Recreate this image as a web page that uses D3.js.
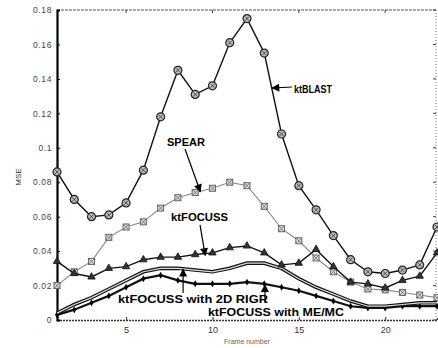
<!DOCTYPE html>
<html>
<head>
<meta charset="utf-8">
<script src="https://cdn.jsdelivr.net/npm/d3@7"></script>
<style>
  html, body { margin: 0; padding: 0; background: #fff; }
  svg { display: block; }
  text { font-family: "Liberation Sans", Arial, sans-serif; }
</style>
</head>
<body>
<div id="chart"></div>
<script>
// frame numbers 1..23
const frames = [1,2,3,4,5,6,7,8,9,10,11,12,13,14,15,16,17,18,19,20,21,22,23];

const ktBLAST = [0.086,0.070,0.060,0.061,0.068,0.087,0.118,0.145,0.131,0.136,0.161,0.175,0.155,0.108,0.078,0.064,0.049,0.035,0.028,0.027,0.029,0.032,0.054];
const spear   = [0.020,0.028,0.034,0.048,0.054,0.057,0.065,0.071,0.074,0.0765,0.080,0.078,0.066,0.053,0.046,0.036,0.028,0.022,0.018,0.0175,0.016,0.0145,0.013];
const ktFOCUSS = [0.034,0.027,0.025,0.030,0.031,0.035,0.0365,0.0365,0.038,0.039,0.042,0.043,0.039,0.032,0.033,0.041,0.031,0.022,0.021,0.0186,0.023,0.0255,0.039];
const rigr    = [0.004,0.009,0.013,0.018,0.023,0.028,0.030,0.030,0.029,0.028,0.030,0.033,0.033,0.030,0.024,0.019,0.015,0.011,0.008,0.008,0.009,0.010,0.010];
const memc    = [0.003,0.006,0.010,0.014,0.019,0.024,0.026,0.023,0.021,0.021,0.021,0.022,0.021,0.019,0.017,0.014,0.011,0.008,0.007,0.007,0.008,0.008,0.008];

const yTicks = [0,0.02,0.04,0.06,0.08,0.1,0.12,0.14,0.16,0.18];
const xTicks = [5,10,15,20];

// annotation labels: text position and arrow from -> to, in data units
const notes = [
  { text: 'ktBLAST', at: [14.72, 0.132], len: 38, from: [14.6, 0.1353], to: [13.45, 0.1347] },
  { text: 'SPEAR', at: [7.37, 0.101], len: 38, from: [8.41, 0.0993], to: [9.3, 0.0745] },
  { text: 'ktFOCUSS', at: [7.6, 0.0575], len: 57, from: [9.28, 0.0552], to: [9.58, 0.0375] },
  { text: 'ktFOCUSS with 2D RIGR', at: [4.53, 0.0099], len: 150, from: [8.3, 0.0157], to: [8.3, 0.0295] },
  { text: 'ktFOCUSS with ME/MC', at: [9.74, 0.0023], len: 136, from: [13.04, 0.0099], to: [13.04, 0.0205] }
];

const width = 438, height = 348;
const margin = { top: 10, right: 1, bottom: 28, left: 57 };

const svg = d3.select('#chart').append('svg')
  .attr('width', width)
  .attr('height', height);

const x = d3.scaleLinear().domain([1, 23]).range([margin.left, width - margin.right]);
const y = d3.scaleLinear().domain([0, 0.18]).range([height - margin.bottom, margin.top]);

const defs = svg.append('defs');
defs.append('marker')
  .attr('id', 'head')
  .attr('viewBox', '0 0 10 10')
  .attr('refX', 9).attr('refY', 5)
  .attr('markerWidth', 9).attr('markerHeight', 8)
  .attr('markerUnits', 'userSpaceOnUse')
  .attr('orient', 'auto')
  .append('path')
  .attr('d', 'M0,0 L10,5 L0,10 Z')
  .attr('fill', '#000');

// box: top and right dotted, bottom dark, left thick
const x0 = x.range()[0], x1 = x.range()[1], y0 = y.range()[0], y1 = y.range()[1];
svg.append('line').attr('x1', x0).attr('x2', x1).attr('y1', y1).attr('y2', y1)
  .attr('stroke', '#555').attr('stroke-width', 1.2).attr('stroke-dasharray', '3,1');
svg.append('line').attr('x1', x1 - 1).attr('x2', x1 - 1).attr('y1', y1).attr('y2', y0)
  .attr('stroke', '#777').attr('stroke-width', 1).attr('stroke-dasharray', '1,2');

// axes
const xAxis = svg.append('g')
  .attr('transform', `translate(0,${y0})`)
  .call(d3.axisBottom(x).tickValues(xTicks).tickSize(-3).tickPadding(7).tickFormat(d3.format('d')));
xAxis.select('.domain').attr('stroke', '#333').attr('stroke-width', 1.4).attr('stroke-dasharray', '2,1');
xAxis.selectAll('.tick line').attr('stroke', '#333');
xAxis.selectAll('text').attr('font-size', 9).attr('fill', '#333');

const yAxis = svg.append('g')
  .attr('transform', `translate(${x0},0)`)
  .call(d3.axisLeft(y).tickValues(yTicks).tickSize(-3).tickPadding(5).tickFormat(d => d === 0 ? '0' : String(+d.toFixed(2))));
yAxis.select('.domain').attr('stroke', '#000').attr('stroke-width', 2.2);
yAxis.selectAll('.tick line').attr('stroke', '#000');
yAxis.selectAll('text').attr('font-size', 8.5).attr('fill', '#444').attr('letter-spacing', 0.6);

// right side ticks (box)
svg.append('g').selectAll('line').data(yTicks).join('line')
  .attr('x1', x1 - 1).attr('x2', x1 - 4)
  .attr('y1', d => y(d)).attr('y2', d => y(d))
  .attr('stroke', '#444');
svg.append('g').selectAll('line').data(xTicks).join('line')
  .attr('x1', d => x(d)).attr('x2', d => x(d))
  .attr('y1', y1).attr('y2', y1 + 3)
  .attr('stroke', '#444');

// axis titles
svg.append('text')
  .attr('x', 247).attr('y', height - 4)
  .attr('text-anchor', 'middle')
  .attr('font-size', 7).attr('fill', '#666')
  .text('Frame number');
svg.append('text')
  .attr('transform', `translate(21,${(y0 + y1) / 2 + 12}) rotate(-90)`)
  .attr('text-anchor', 'middle')
  .attr('font-size', 8).attr('fill', '#333')
  .text('MSE');

const plot = svg.append('g');
const line = vals => d3.line().x((d, i) => x(frames[i])).y(d => y(d))(vals);

// ME/MC: black line with small markers
plot.append('path').attr('d', line(memc))
  .attr('fill', 'none').attr('stroke', '#111').attr('stroke-width', 2.2);
plot.append('g').selectAll('path').data(memc).join('path')
  .attr('d', d3.symbol(d3.symbolDiamond, 14))
  .attr('transform', (d, i) => `translate(${x(frames[i])},${y(d)})`)
  .attr('fill', '#000');

// 2D RIGR: double line
plot.append('path').attr('d', line(rigr))
  .attr('fill', 'none').attr('stroke', '#111').attr('stroke-width', 3.6);
plot.append('path').attr('d', line(rigr))
  .attr('fill', 'none').attr('stroke', '#ddd').attr('stroke-width', 1.2);

// SPEAR: gray line with boxed crosses
plot.append('path').attr('d', line(spear))
  .attr('fill', 'none').attr('stroke', '#888').attr('stroke-width', 1.1);
const sq = plot.append('g').selectAll('g').data(spear).join('g')
  .attr('transform', (d, i) => `translate(${x(frames[i])},${y(d)})`);
sq.append('rect').attr('x', -3).attr('y', -3).attr('width', 6).attr('height', 6)
  .attr('fill', '#ddd').attr('stroke', '#666').attr('stroke-width', 1);
sq.append('path').attr('d', 'M-3,-3L3,3M3,-3L-3,3').attr('stroke', '#666').attr('stroke-width', 0.8);

// ktFOCUSS: black line with triangles
plot.append('path').attr('d', line(ktFOCUSS))
  .attr('fill', 'none').attr('stroke', '#111').attr('stroke-width', 1.4);
plot.append('g').selectAll('path').data(ktFOCUSS).join('path')
  .attr('d', d3.symbol(d3.symbolTriangle, 24))
  .attr('transform', (d, i) => `translate(${x(frames[i])},${y(d)})`)
  .attr('fill', '#333').attr('stroke', '#111').attr('stroke-width', 0.8);

// ktBLAST: black line with circles
plot.append('path').attr('d', line(ktBLAST))
  .attr('fill', 'none').attr('stroke', '#111').attr('stroke-width', 1.4);
const circ = plot.append('g').selectAll('g').data(ktBLAST).join('g')
  .attr('transform', (d, i) => `translate(${x(frames[i])},${y(d)})`);
circ.append('circle').attr('r', 4)
  .attr('fill', '#bbb').attr('stroke', '#222').attr('stroke-width', 1.2);
circ.append('path').attr('d', 'M-2,-2L2,2M2,-2L-2,2').attr('stroke', '#333').attr('stroke-width', 0.8);

// annotations
const ann = svg.append('g');
ann.selectAll('line').data(notes).join('line')
  .attr('x1', d => x(d.from[0])).attr('y1', d => y(d.from[1]))
  .attr('x2', d => x(d.to[0])).attr('y2', d => y(d.to[1]))
  .attr('stroke', '#000').attr('stroke-width', 1.2)
  .attr('marker-end', 'url(#head)');
ann.selectAll('text').data(notes).join('text')
  .attr('x', d => x(d.at[0])).attr('y', d => y(d.at[1]))
  .attr('font-size', 10.5).attr('font-weight', 'bold').attr('fill', '#000')
  .attr('textLength', d => d.len).attr('lengthAdjust', 'spacingAndGlyphs')
  .text(d => d.text);
</script>
</body>
</html>
